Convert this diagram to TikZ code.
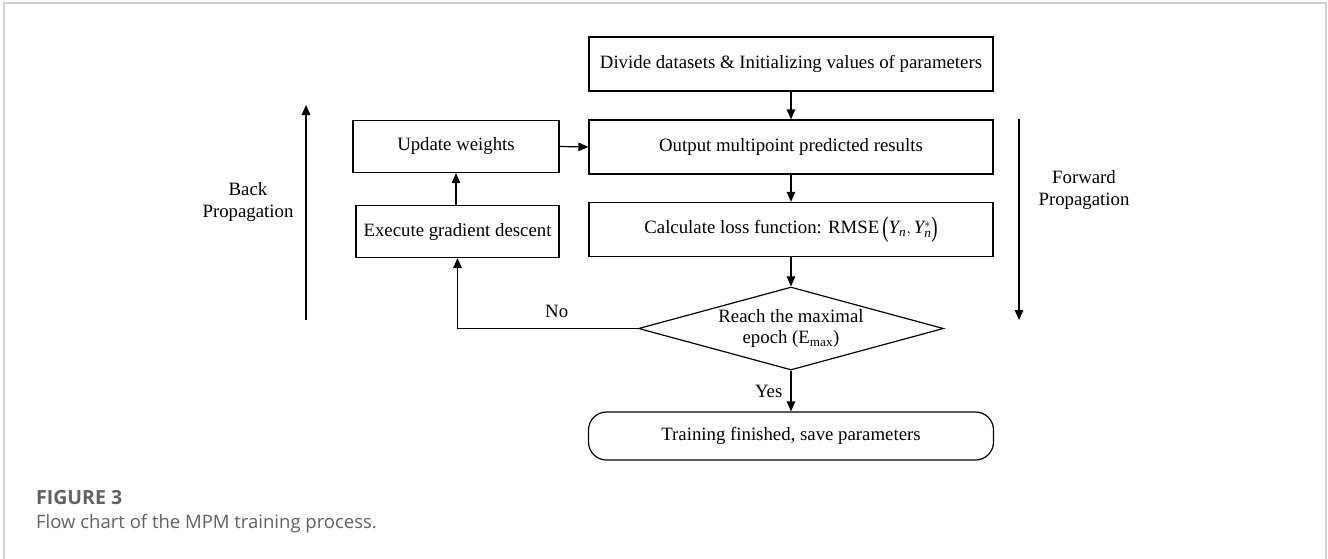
\documentclass[tikz,border=0pt]{standalone}
\usepackage{graphicx}
\usepackage{fontspec}
\setmainfont{Liberation Serif}
\newfontfamily\capfont{Open Sans}
\usetikzlibrary{shapes.geometric,arrows.meta}
\newcommand{\tallparL}{\raisebox{-0.32ex}{\scalebox{1}[1.5]{(}}}
\newcommand{\tallparR}{\raisebox{-0.32ex}{\scalebox{1}[1.5]{)}}}
\begin{document}
\begin{tikzpicture}[x=1pt,y=-1pt,
  every node/.style={font=\fontsize{18.8}{21}\selectfont},
  procbox/.style={draw,line width=1.2pt,minimum width=404pt,minimum height=54pt,inner sep=0pt,anchor=center},
  sidebox/.style={draw,line width=1.2pt,minimum height=52pt,inner sep=0pt},
  decis/.style={draw,line width=1.2pt,shape=diamond,aspect=3.67,inner sep=0pt,minimum width=305pt,minimum height=83pt,align=center},
  term/.style={draw,line width=1.2pt,rounded corners=18pt,minimum width=405pt,minimum height=48pt,inner sep=0pt},
  flow/.style={line width=1.2pt,-{Triangle[length=10pt,width=8.5pt]}},
  lbl/.style={align=center,inner sep=0pt,font=\fontsize{18.8}{21.5}\selectfont}
]
\useasboundingbox (0,0) rectangle (1328,558);
% outer frame
\draw[line width=1.2pt,color=black!18] (4,560) -- (4,3) -- (1326,3) -- (1326,560);

\node[procbox] (init) at (791,64) {Divide datasets \& Initializing values of parameters};
\node[procbox] (out) at (791,147) {Output multipoint predicted results};
\node[procbox] (loss) at (791,229.5) {Calculate loss function: RMSE\,\tallparL$\mathit{Y}_{\mathit{n}},\mathit{Y}_{\mathit{n}}^{*}$\tallparR};
\node[decis] (dec) at (791,328.5) {Reach the maximal\\epoch (E\textsubscript{max})};
\node[term] (fin) at (791,436) {Training finished, save parameters};

\node[sidebox,minimum width=206pt] (upd) at (456,146.5) {Update weights};
\node[sidebox,minimum width=203pt] (grad) at (457.5,231.5) {Execute gradient descent};

\draw[flow] (init) -- (out);
\draw[flow] (out) -- (loss);
\draw[flow] (loss) -- (dec.north);
\draw[flow] (dec.south) -- node[lbl,anchor=east,xshift=-8pt] (yes) {Yes} (fin.north);
\draw[flow] (upd.east) -- (out.west);
\draw[flow] (grad.north -| upd.south) -- (upd.south);
\coordinate (corner) at (grad.south |- dec.west);
\draw[flow] (dec.west) -- node[lbl,above=10pt,pos=0.45] (no) {No} (corner) -- (grad.south);

% propagation arrows
\coordinate (bpb) at (306,320);
\coordinate (bpt) at (306,105);
\draw[flow] (bpb) -- (bpt);
\node[lbl] (bp) at (248,202) {Back\\Propagation};
\coordinate (fpt) at (1019,119);
\coordinate (fpb) at (1019,320);
\draw[flow] (fpt) -- (fpb);
\node[lbl] (fp) at (1084,190) {Forward\\Propagation};

% caption
\node[anchor=west,inner sep=0pt,text=black!62,font=\capfont\bfseries\fontsize{19.5}{22}\selectfont] (figno) at (36,498) {FIGURE 3};
\node[anchor=west,inner sep=0pt,text=black!62,font=\capfont\fontsize{18.5}{22}\selectfont] (cap) at (36,524) {Flow chart of the MPM training process.};
\end{tikzpicture}
\end{document}
